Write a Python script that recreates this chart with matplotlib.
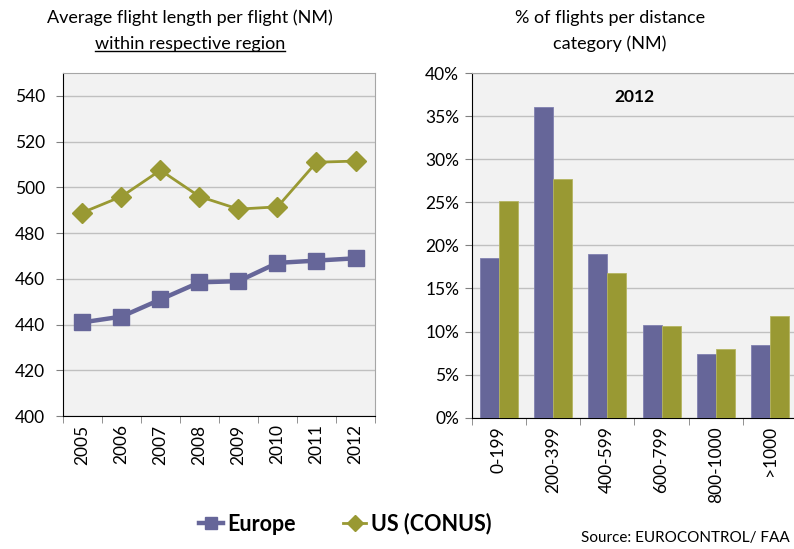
import matplotlib
matplotlib.use("Agg")
import matplotlib.pyplot as plt
import numpy as np
from matplotlib.lines import Line2D
from matplotlib.ticker import FuncFormatter

plt.rcParams['font.family'] = ['Lato', 'DejaVu Sans']

# data
years = ['2005', '2006', '2007', '2008', '2009', '2010', '2011', '2012']
europe_len = [441, 443.5, 451, 458.5, 459, 467, 468, 469]
us_len = [489, 496, 507.5, 496, 490.5, 491.5, 511, 511.5]

dist_cats = ['0-199', '200-399', '400-599', '600-799', '800-1000', '>1000']
europe_share = [18.5, 36.0, 19.0, 10.8, 7.4, 8.4]
us_share = [25.2, 27.7, 16.8, 10.6, 8.0, 11.8]

eu_col = '#666699'
us_col = '#999933'
bg = '#f2f2f2'
grid_col = '#c0c0c0'

fig = plt.figure(figsize=(7.94, 5.49), dpi=100)

# left: line chart
ax1 = fig.add_axes([0.0793, 0.242, 0.393, 0.625])
ax1.set_facecolor(bg)
x = np.arange(len(years))
ax1.plot(x, europe_len, color=eu_col, lw=3.2, marker='s', ms=11, zorder=3)
ax1.plot(x, us_len, color=us_col, lw=2, marker='D', ms=10, zorder=3)
ax1.set_xlim(-0.5, len(years) - 0.5)
ax1.set_ylim(400, 550)
ax1.set_yticks(range(400, 541, 20))
ax1.set_xticks(x)
ax1.set_xticklabels(years, rotation=90)
ax1.set_xticks(np.arange(-0.5, len(years)), minor=True)
ax1.tick_params(axis='x', which='major', length=0, labelsize=12.5, pad=6)
ax1.tick_params(axis='x', which='minor', length=5, color='#808080')
ax1.tick_params(axis='y', labelsize=12.5, length=5, color='#808080', pad=8)
ax1.grid(axis='y', color=grid_col, lw=1)
ax1.set_axisbelow(True)
for s in ['top', 'right']:
    ax1.spines[s].set_color('#a6a6a6')
for s in ['left', 'bottom']:
    ax1.spines[s].set_color('black')

# right: bar chart
ax2 = fig.add_axes([0.594, 0.239, 0.41, 0.628])
ax2.set_facecolor(bg)
xb = np.arange(len(dist_cats))
w = 0.35
ax2.bar(xb - w / 2, europe_share, w, color=eu_col, edgecolor='#8080b0', lw=0.6, zorder=3)
ax2.bar(xb + w / 2, us_share, w, color=us_col, edgecolor='#b5b560', lw=0.6, zorder=3)
ax2.set_xlim(-0.5, len(dist_cats) - 0.5)
ax2.set_ylim(0, 40)
ax2.set_yticks(range(0, 41, 5))
ax2.yaxis.set_major_formatter(FuncFormatter(lambda v, p: f'{int(v)}%'))
ax2.set_xticks(xb)
ax2.set_xticklabels(dist_cats, rotation=90)
ax2.set_xticks(np.arange(-0.5, len(dist_cats)), minor=True)
ax2.tick_params(axis='x', which='major', length=0, labelsize=12.5, pad=6)
ax2.tick_params(axis='x', which='minor', length=5, color='#808080')
ax2.tick_params(axis='y', labelsize=12.5, length=5, color='#808080', pad=4)
ax2.grid(axis='y', color=grid_col, lw=1)
ax2.set_axisbelow(True)
for s in ['top', 'right']:
    ax2.spines[s].set_color('#a6a6a6')
for s in ['left', 'bottom']:
    ax2.spines[s].set_color('black')
ax2.text(0.5, 0.955, '2012', transform=ax2.transAxes, ha='center', va='top',
         fontsize=12.5, fontweight='bold')

# titles
fig.text(190 / 794, 1 - 18 / 549, 'Average flight length per flight (NM)',
         ha='center', va='center', fontsize=13)
t2 = fig.text(190 / 794, 1 - 44 / 549, 'within respective region',
              ha='center', va='center', fontsize=13)
fig.text(610 / 794, 1 - 18 / 549, '% of flights per distance', ha='center', va='center', fontsize=13)
fig.text(610 / 794, 1 - 44 / 549, 'category (NM)', ha='center', va='center', fontsize=13)

# underline second title line
fig.canvas.draw()
bb = t2.get_window_extent().transformed(fig.transFigure.inverted())
fig.add_artist(Line2D([bb.x0, bb.x1], [bb.y0 + 0.002, bb.y0 + 0.002], color='black', lw=1))

# legend
handles = [Line2D([], [], color=eu_col, lw=3.2, marker='s', ms=9),
           Line2D([], [], color=us_col, lw=2, marker='D', ms=8)]
fig.legend(handles, ['Europe', 'US (CONUS)'], loc='center', bbox_to_anchor=(345 / 794, 1 - 524 / 549),
           ncol=2, frameon=False, handlelength=1.1, handletextpad=0.2, columnspacing=2.2,
           prop={'size': 15.5, 'weight': 'bold'})

fig.text(790 / 794, 1 - 538 / 549, 'Source: EUROCONTROL/ FAA', ha='right', va='center', fontsize=11)

fig.savefig('out.png', dpi=100)
